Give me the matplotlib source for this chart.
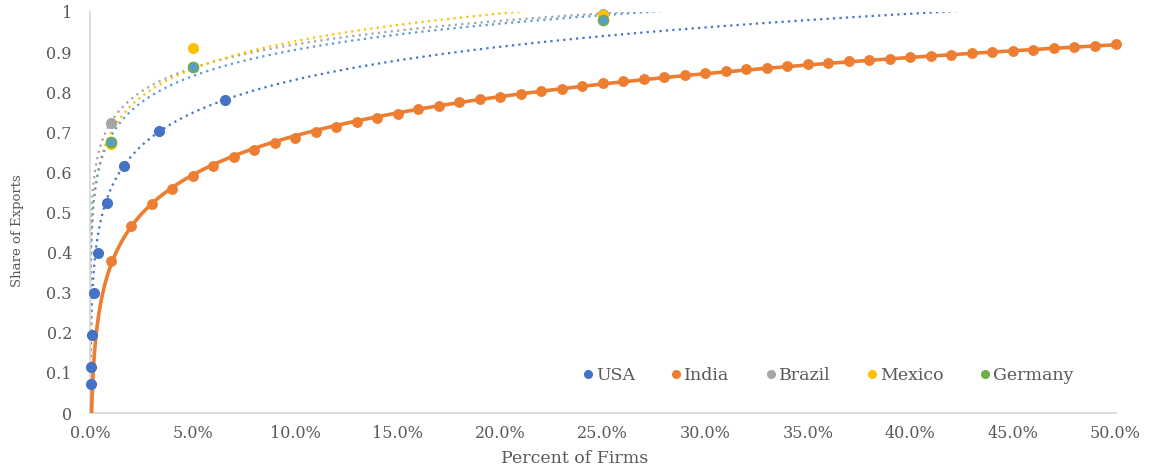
import numpy as np
import matplotlib
matplotlib.use("Agg")
import matplotlib.pyplot as plt
from matplotlib.lines import Line2D

# ---------------- data ----------------
usa_x = [0.00026, 0.00052, 0.001, 0.002, 0.0037, 0.0082, 0.0166, 0.0335, 0.066]
usa_y = [0.072, 0.115, 0.195, 0.30, 0.40, 0.524, 0.616, 0.704, 0.78]

india_x = [i / 100 for i in range(1, 51)]
india_y = [0.380, 0.467, 0.520, 0.559, 0.591, 0.616, 0.638, 0.656, 0.673, 0.687,
           0.700, 0.714, 0.725, 0.735, 0.746, 0.757, 0.766, 0.775, 0.782, 0.789,
           0.795, 0.804, 0.809, 0.815, 0.822, 0.827, 0.832, 0.837, 0.842, 0.848,
           0.854, 0.858, 0.861, 0.865, 0.870, 0.874, 0.878, 0.880, 0.884, 0.888,
           0.890, 0.893, 0.897, 0.900, 0.903, 0.906, 0.909, 0.912, 0.915, 0.920]

brazil_x = [0.01, 0.05, 0.25]
brazil_y = [0.722, 0.864, 0.995]

mexico_x = [0.01, 0.05, 0.25]
mexico_y = [0.672, 0.909, 0.993]

germany_x = [0.01, 0.05, 0.25]
germany_y = [0.676, 0.864, 0.980]

series_names = ["USA", "India", "Brazil", "Mexico", "Germany"]
x_ticks = [0.0, 0.05, 0.10, 0.15, 0.20, 0.25, 0.30, 0.35, 0.40, 0.45, 0.50]
y_ticks = [0, 0.1, 0.2, 0.3, 0.4, 0.5, 0.6, 0.7, 0.8, 0.9, 1.0]
y_tick_labels = ["0", "0.1", "0.2", "0.3", "0.4", "0.5", "0.6", "0.7", "0.8", "0.9", "1"]

# ---------------- style ----------------
C_USA = "#4472C4"
C_IND = "#ED7D31"
C_BRA = "#A5A5A5"
C_MEX = "#FFC000"
C_GER = "#70AD47"
C_GER_IN = "#5B9BD5"
TXT = "#595959"

plt.rcParams["font.family"] = ["DejaVu Serif"]

fig = plt.figure(figsize=(11.5, 4.72), dpi=100)
ax = fig.add_axes([0.0783, 0.125, 0.8917, 0.8496])

xs = np.logspace(-6, np.log10(0.5), 2000)


def trend(x, y):
    b, a = np.polyfit(np.log(x), y, 1)
    return a + b * np.log(xs)


dot = dict(linestyle=(0, (1.0, 1.9)), linewidth=1.6)

# USA (log trendline fitted on the upper part of the distribution)
ax.plot(xs, trend(usa_x[6:], usa_y[6:]), color=C_USA, zorder=2, **dot)
ax.plot(usa_x, usa_y, "o", color=C_USA, markersize=7, zorder=5, clip_on=False)

# India (solid log trendline)
ax.plot(xs, trend(india_x, india_y), color=C_IND, linewidth=2.6, zorder=3)
ax.plot(india_x, india_y, "o", color=C_IND, markersize=6.8, zorder=4, clip_on=False)

# Brazil
ax.plot(xs, trend(brazil_x, brazil_y), color=C_BRA, zorder=2, **dot)
ax.plot(brazil_x, brazil_y, "o", color=C_BRA, markersize=7, zorder=5, clip_on=False)

# Mexico
ax.plot(xs, trend(mexico_x, mexico_y), color=C_MEX, zorder=2, **dot)
ax.plot(mexico_x, mexico_y, "o", color=C_MEX, markersize=7, zorder=5, clip_on=False)

# Germany
ax.plot(xs, trend(germany_x, germany_y), color=C_GER_IN, zorder=2, **dot)
ax.plot(germany_x, germany_y, "o", color=C_GER_IN, markeredgecolor=C_GER,
        markeredgewidth=1.4, markersize=7, zorder=6, clip_on=False)

ax.set_xlim(0, 0.5)
ax.set_ylim(0, 1)
ax.set_xticks(x_ticks)
ax.set_xticklabels([f"{v*100:.1f}%" for v in x_ticks])
ax.set_yticks(y_ticks)
ax.set_yticklabels(y_tick_labels)
ax.tick_params(length=0, labelsize=11.5, colors=TXT)
ax.tick_params(axis="y", pad=13)
ax.tick_params(axis="x", pad=9)

for s in ["top", "right"]:
    ax.spines[s].set_visible(False)
for s in ["left", "bottom"]:
    ax.spines[s].set_color("#D9D9D9")
    ax.spines[s].set_linewidth(1.3)

ax.set_xlabel("Percent of Firms", fontsize=12.5, color=TXT)
ax.set_ylabel("Share of Exports", fontsize=9.5, color=TXT)
ax.xaxis.set_label_coords(0.473, -0.092)
ax.yaxis.set_label_coords(-0.064, 0.456)

handles = [Line2D([], [], marker="o", linestyle="", color=c, markersize=5.5)
           for c in [C_USA, C_IND, C_BRA, C_MEX, C_GER]]
ax.legend(handles, series_names, loc="center left", bbox_to_anchor=(0.472, 0.093),
          ncol=5, frameon=False, fontsize=12.5, labelcolor=TXT, borderpad=0,
          handlelength=0.6, handletextpad=0.15, columnspacing=2.1)

fig.savefig("out.png", dpi=100)
